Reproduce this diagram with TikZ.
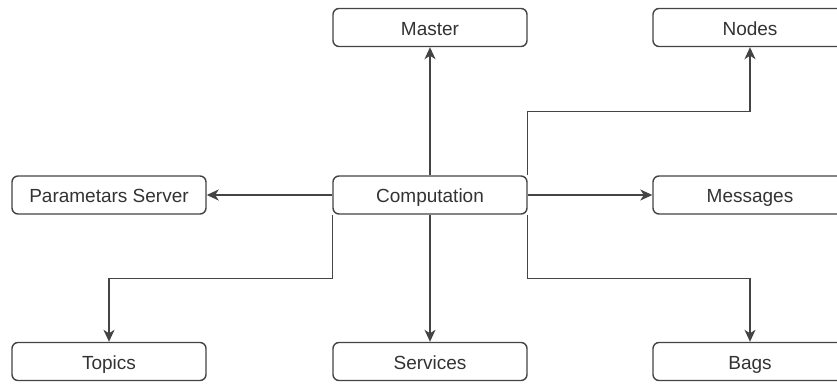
\documentclass[tikz,border=0pt]{standalone}
\usepackage{fontspec}
\setmainfont{Liberation Sans}
\usepackage{tikz}
\usepackage{xcolor}
\usetikzlibrary{arrows.meta}
\definecolor{boxline}{HTML}{444444}
\definecolor{boxtext}{HTML}{333333}
\tikzset{
    part-box/.style = {draw=boxline, fill=white, line width=1.4pt, rectangle, rounded corners=6pt, minimum width=194pt, minimum height=38pt, inner sep=0pt, text height=17pt, text depth=1pt, text=boxtext, font=\fontsize{19}{21}\selectfont},
    part-link/.style = {draw=boxline, line width=1.4pt, -{Stealth[length=12pt, width=11pt, inset=3.5pt]}},
}

\begin{document}
\begin{tikzpicture}[x=1pt, y=1pt]
\useasboundingbox (0,0) rectangle (837,383);
\clip (0,0) rectangle (837,383);
% top row
\node [part-box] (master) at (430,355.5) {Master};
\node [part-box] (nodes) at (750,355.5) {Nodes};
% middle row
\node [part-box] (server) at (109,188) {Parametars Server};
\node [part-box] (comp) at (430,188) {Computation};
\node [part-box] (messages) at (750,188) {Messages};
% bottom row
\node [part-box] (topics) at (109,21.5) {Topics};
\node [part-box] (services) at (430,21.5) {Services};
\node [part-box] (bags) at (750,21.5) {Bags};
% links out of Computation
\draw [part-link] (comp) -- (master);
\draw [part-link] (comp.north east) -- ++(0,64) -| (nodes.south);
\draw [part-link] (comp) -- (server);
\draw [part-link] (comp) -- (messages);
\draw [part-link] (comp.south west) -- ++(0,-64) -| (topics.north);
\draw [part-link] (comp) -- (services);
\draw [part-link] (comp.south east) -- ++(0,-64) -| (bags.north);
\end{tikzpicture}
\end{document}
